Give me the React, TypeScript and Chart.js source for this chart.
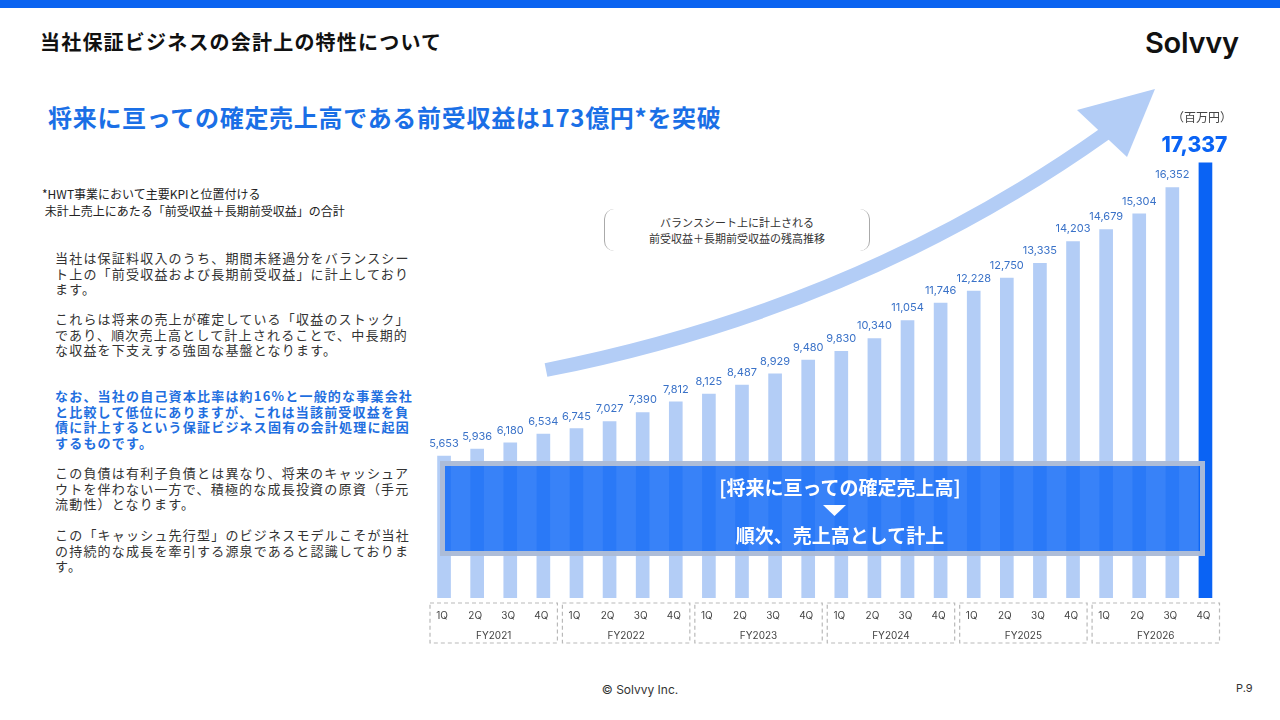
import React, { useEffect, useRef } from 'react';
import { Chart, registerables } from 'chart.js';

Chart.register(...registerables);

const fiscalYears = ['FY2021', 'FY2022', 'FY2023', 'FY2024', 'FY2025', 'FY2026'];
const quarters = ['1Q', '2Q', '3Q', '4Q'];
const balances = [
  5653, 5936, 6180, 6534,
  6745, 7027, 7390, 7812,
  8125, 8487, 8929, 9480,
  9830, 10340, 11054, 11746,
  12228, 12750, 13335, 14203,
  14679, 15304, 16352, 17337,
];
const unitLabel = '（百万円）';

const JP = '"Noto Sans CJK JP", "Noto Sans", sans-serif';
const NUM = 'Inter, "Noto Sans", sans-serif';

const LIGHT = '#b3cdf6';
const DARK = '#0a63f4';
const BLUE_TEXT = '#3a72c8';

const fmt = (v: number) => v.toLocaleString('en-US');

const decorPlugin = {
  id: 'decor',
  afterDatasetsDraw(chart: any) {
    const ctx = chart.ctx as CanvasRenderingContext2D;
    const meta = chart.getDatasetMeta(0);
    const area = chart.chartArea;
    const xs = chart.scales.x;
    ctx.save();
    ctx.textAlign = 'center';
    meta.data.forEach((bar: any, i: number) => {
      const v = balances[i];
      if (i === balances.length - 1) {
        ctx.font = `800 21px ${NUM}`;
        ctx.fillStyle = DARK;
        ctx.textBaseline = 'middle';
        ctx.fillText(fmt(v), bar.x - 11, bar.y - 17);
      } else {
        ctx.font = `400 11px ${NUM}`;
        ctx.fillStyle = BLUE_TEXT;
        ctx.textBaseline = 'bottom';
        ctx.fillText(fmt(v), bar.x, bar.y - 7);
      }
    });
    const step = xs.getPixelForValue(1) - xs.getPixelForValue(0);
    ctx.setLineDash([4, 3]);
    ctx.strokeStyle = '#b9b9b9';
    ctx.lineWidth = 1.2;
    ctx.textBaseline = 'middle';
    fiscalYears.forEach((fy, g) => {
      const x0 = xs.getPixelForValue(g * 4) - step / 2 + 2.5;
      const x1 = xs.getPixelForValue(g * 4 + 3) + step / 2 - 2.5;
      ctx.strokeRect(x0, area.bottom + 5, x1 - x0, 40);
      ctx.font = `400 10px ${NUM}`;
      ctx.fillStyle = '#444';
      ctx.fillText(fy, (x0 + x1) / 2, area.bottom + 38);
      quarters.forEach((q, k) => {
        const x = xs.getPixelForValue(g * 4 + k);
        ctx.fillText(q, x - 2, area.bottom + 18);
      });
    });
    ctx.restore();
  },
};

export default function App() {
  const canvasRef = useRef<HTMLCanvasElement>(null);

  useEffect(() => {
    const labels = fiscalYears.flatMap((fy) => quarters.map((q) => `${fy} ${q}`));
    const colors = balances.map((_, i) => (i === balances.length - 1 ? DARK : LIGHT));
    const chart = new Chart(canvasRef.current!, {
      type: 'bar',
      data: {
        labels,
        datasets: [
          {
            data: balances,
            backgroundColor: colors,
            borderWidth: 0,
            barThickness: 13,
          },
        ],
      },
      options: {
        animation: false,
        responsive: true,
        maintainAspectRatio: false,
        layout: { padding: { left: 7.5, right: 38, top: 16, bottom: 62 } },
        plugins: { legend: { display: false }, tooltip: { enabled: false } },
        scales: {
          x: { display: false, offset: true },
          y: { display: false, min: 0, max: 20000 },
        },
      },
      plugins: [decorPlugin],
    });
    return () => chart.destroy();
  }, []);

  const bodyText: React.CSSProperties = {
    position: 'absolute',
    left: 55,
    fontFamily: JP,
    fontSize: 13,
    lineHeight: '15.6px',
    letterSpacing: '1.2px',
    color: '#333',
    whiteSpace: 'nowrap',
  };

  return (
    <div
      style={{
        position: 'fixed',
        left: 0,
        top: 0,
        width: 1280,
        height: 720,
        background: '#fff',
        overflow: 'hidden',
        fontFamily: JP,
      }}
    >
      <div style={{ position: 'absolute', left: 0, top: 0, width: 1280, height: 8, background: '#0a63f0' }} />
      <div
        style={{
          position: 'absolute', left: 40, top: 28, fontSize: 20, lineHeight: '28px', fontWeight: 700,
          color: '#111', letterSpacing: '1.2px', whiteSpace: 'nowrap',
        }}
      >
        当社保証ビジネスの会計上の特性について
      </div>
      <div
        style={{
          position: 'absolute', left: 1145, top: 23, fontFamily: NUM, fontSize: 29, lineHeight: '40px',
          fontWeight: 600, color: '#111', letterSpacing: '-0.3px',
        }}
      >
        Solvvy
      </div>
      <div
        style={{
          position: 'absolute', left: 48, top: 100, fontSize: 24, lineHeight: '34px', fontWeight: 700,
          color: '#1a6fe6', whiteSpace: 'nowrap', letterSpacing: '0.7px',
        }}
      >
        将来に亘っての確定売上高である前受収益は173億円*を突破
      </div>
      <div style={{ position: 'absolute', left: 42, top: 185, fontSize: 12, lineHeight: '17px', color: '#222', whiteSpace: 'pre' }}>
        {'*HWT事業において主要KPIと位置付ける\n 未計上売上にあたる「前受収益＋長期前受収益」の合計'}
      </div>

      <div style={{ ...bodyText, top: 250 }}>
        当社は保証料収入のうち、期間未経過分をバランスシー<br />ト上の「前受収益および長期前受収益」に計上しており<br />ます。
      </div>
      <div style={{ ...bodyText, top: 311 }}>
        これらは将来の売上が確定している「収益のストック」<br />であり、順次売上高として計上されることで、中長期的<br />な収益を下支えする強固な基盤となります。
      </div>
      <div style={{ ...bodyText, top: 388, color: '#1f6fe0', fontWeight: 700 }}>
        なお、当社の自己資本比率は約16%と一般的な事業会社<br />と比較して低位にありますが、これは当該前受収益を負<br />債に計上するという保証ビジネス固有の会計処理に起因<br />するものです。
      </div>
      <div style={{ ...bodyText, top: 465 }}>
        この負債は有利子負債とは異なり、将来のキャッシュア<br />ウトを伴わない一方で、積極的な成長投資の原資（手元<br />流動性）となります。
      </div>
      <div style={{ ...bodyText, top: 527 }}>
        この「キャッシュ先行型」のビジネスモデルこそが当社<br />の持続的な成長を牽引する源泉であると認識しておりま<br />す。
      </div>

      <svg
        width={1280}
        height={720}
        style={{ position: 'absolute', left: 0, top: 0 }}
      >
        <path d="M546,370 Q860,308 1106,133" stroke={LIGHT} strokeWidth={14} fill="none" />
        <polygon points="1077,110 1155,89 1127,157" fill={LIGHT} />
      </svg>

      <div
        style={{
          position: 'absolute', left: 604, top: 209, width: 266, height: 42,
          borderLeft: '1.2px solid #aaa', borderRight: '1.2px solid #aaa', borderRadius: 10,
          boxSizing: 'border-box', textAlign: 'center', fontSize: 11, lineHeight: '16px', color: '#333',
          paddingTop: 5,
        }}
      >
        バランスシート上に計上される<br />前受収益＋長期前受収益の残高推移
      </div>

      <div style={{ position: 'absolute', left: 420, top: 80, width: 840, height: 580 }}>
        <canvas ref={canvasRef} />
      </div>

      <div
        style={{
          position: 'absolute', left: 1150, top: 109, width: 104, textAlign: 'center', fontSize: 12,
          lineHeight: '16px', color: '#444',
        }}
      >
        {unitLabel}
      </div>

      <div
        style={{
          position: 'absolute', left: 440, top: 461, width: 765, height: 95, boxSizing: 'border-box',
          border: '5px solid rgba(195,200,210,0.85)', background: 'rgba(12,102,246,0.82)',
        }}
      >
        <div style={{ position: 'absolute', left: 0, width: 790, top: 9, textAlign: 'center', color: '#fff', fontWeight: 700, fontSize: 19, lineHeight: '24px', whiteSpace: 'nowrap' }}>
          [将来に亘っての確定売上高]
        </div>
        <svg width={765} height={95} style={{ position: 'absolute', left: -5, top: -5 }}>
          <polygon points="383,44 406,44 394.5,55" fill="#fff" />
        </svg>
        <div style={{ position: 'absolute', left: 0, width: 790, top: 57, textAlign: 'center', color: '#fff', fontWeight: 700, fontSize: 19, lineHeight: '24px', whiteSpace: 'nowrap' }}>
          順次、売上高として計上
        </div>
      </div>

      <div style={{ position: 'absolute', left: 0, width: 1280, top: 682, textAlign: 'center', fontFamily: NUM, fontSize: 12, lineHeight: '16px', color: '#333' }}>
        © Solvvy Inc.
      </div>
      <div style={{ position: 'absolute', left: 1236, top: 681, fontFamily: NUM, fontSize: 11, lineHeight: '14px', color: '#333' }}>
        P.9
      </div>
    </div>
  );
}
